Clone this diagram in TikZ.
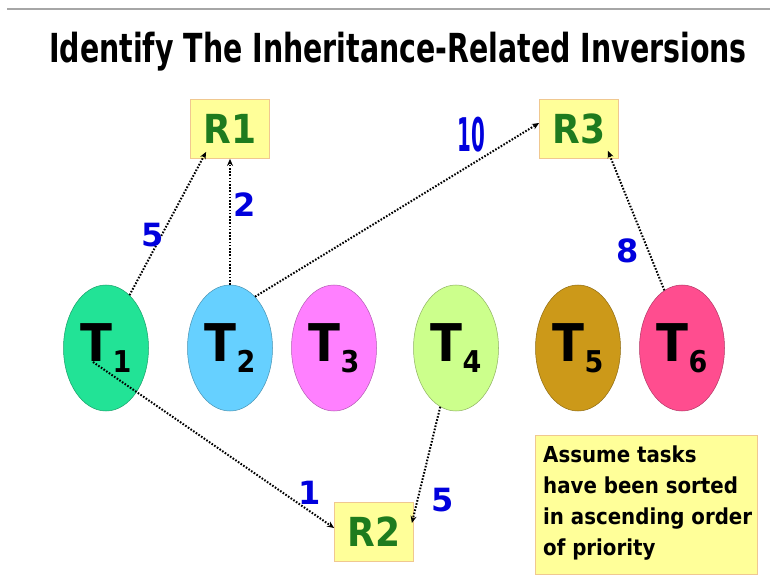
\documentclass[tikz,border=0pt]{standalone}
\usepackage{fontspec}
\setmainfont{DejaVu Sans}
\newfontfamily\condfont{DejaVu Sans Condensed}
\usepackage{xcolor}
\usetikzlibrary{arrows.meta,shapes.geometric,calc}

\definecolor{tone}{HTML}{22E396}
\definecolor{ttwo}{HTML}{66D0FF}
\definecolor{tthree}{HTML}{FF80FF}
\definecolor{tfour}{HTML}{CCFF8C}
\definecolor{tfive}{HTML}{CC9919}
\definecolor{tsix}{HTML}{FF4D8F}
\definecolor{boxfill}{HTML}{FFFF99}
\definecolor{boxline}{HTML}{F0C890}
\definecolor{rgreen}{HTML}{1E7B1E}
\definecolor{wblue}{HTML}{0000DD}

\newcommand{\tname}[1]{T\raisebox{-11pt}{\fontsize{30}{30}\selectfont #1}}

\begin{document}
\begin{tikzpicture}[x=1pt,y=1pt,>={Stealth[length=7pt,width=6pt]},
  task/.style={ellipse,draw=#1!70!black,fill=#1,line width=0.5pt,
    minimum width=85pt,minimum height=126pt,inner sep=0pt,
    font=\condfont\bfseries\fontsize{52}{52}\selectfont},
  res/.style={rectangle,draw=boxline,fill=boxfill,line width=0.8pt,
    minimum width=79pt,minimum height=59pt,text=rgreen,
    font=\condfont\bfseries\fontsize{40}{40}\selectfont},
  wt/.style={text=wblue,font=\bfseries\fontsize{32}{32}\selectfont},
  dep/.style={->,line width=2pt,dash pattern=on 1.6pt off 1.6pt}]
  \useasboundingbox (0,0) rectangle (770,576);
  \fill[white] (0,0) rectangle (770,576);
  \draw[gray!70,line width=1.5pt] (7,567) -- (770,567);
  \node[font=\condfont\bfseries\fontsize{40}{40}\selectfont] (title) at (398,524)
    {\scalebox{0.79}[1]{Identify The Inheritance-Related Inversions}};

  % resources
  \node[res] (R1) at (230,447) {R1};
  \node[res] (R3) at (579,447) {R3};
  \node[res] (R2) at (374,44) {R2};

  % tasks
  \node[task=tone]   (T1) at (106,228) {\tname{1}};
  \node[task=ttwo]   (T2) at (230,228) {\tname{2}};
  \node[task=tthree] (T3) at (334,228) {\tname{3}};
  \node[task=tfour]  (T4) at (456,228) {\tname{4}};
  \node[task=tfive]  (T5) at (578,228) {\tname{5}};
  \node[task=tsix]   (T6) at (682,228) {\tname{6}};

  % requests
  \draw[dep] (T1.66) -- ($(R1.south west)+(16,7)$);
  \draw[dep] (T2.north) -- (R1.south);
  \draw[dep] (T2.64) -- ($(R3.west)+(0,6)$);
  \draw[dep] (T6.107) -- ($(R3.south east)+(-11,8)$);
  \draw[dep] ($(T1.center)+(-13,-14)$) -- ($(R2.west)+(0,4)$);
  \draw[dep] (T4.255) -- ($(R2.east)+(-2,9)$);

  % weights
  \node[wt] (w15) at (153,341) {5};
  \node[wt] (w22) at (245,371) {2};
  \node[wt] (w210) at (471,441) {\scalebox{0.62}[1.45]{10}};
  \node[wt] (w68) at (628,325) {8};
  \node[wt] (w11) at (310,83) {1};
  \node[wt] (w45) at (443,76) {5};

  \node[rectangle,draw=boxline,fill=boxfill,line width=0.8pt,minimum width=222pt,
    minimum height=139pt,anchor=south west] (note) at (535,1) {};
  \node[anchor=north west,align=left,inner sep=0pt,
    font=\condfont\bfseries\fontsize{22}{31}\selectfont] (notetext) at (543,130)
    {Assume tasks\\have been sorted\\in ascending order\\of priority};
\end{tikzpicture}
\end{document}
